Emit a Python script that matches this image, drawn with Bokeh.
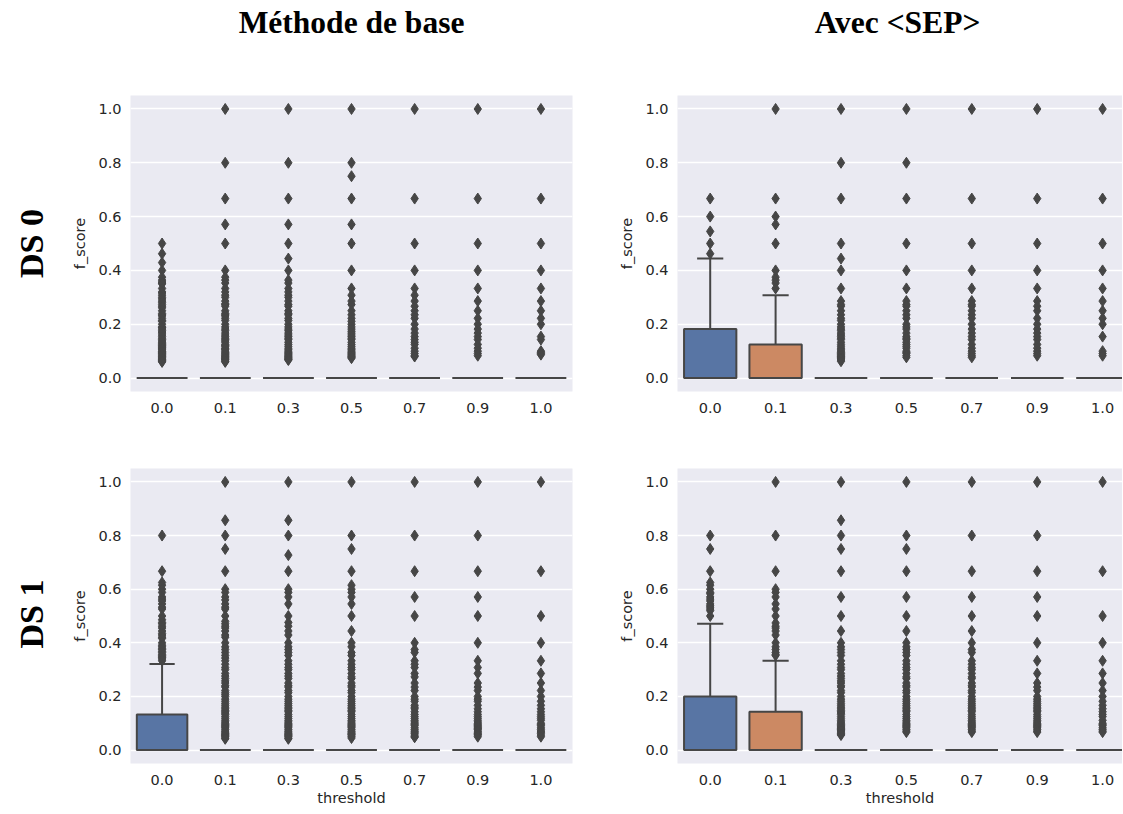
from bokeh.plotting import figure
from bokeh.models import Range1d, FixedTicker, ColumnDataSource
from bokeh.layouts import column, row
from bokeh.embed import file_html
from bokeh.resources import INLINE
from bokeh.core.properties import value

# ---------------- data ----------------
categories = ["0.0", "0.1", "0.3", "0.5", "0.7", "0.9", "1.0"]
col_titles = ["Méthode de base", "Avec <SEP>"]
row_titles = ["DS 0", "DS 1"]
x_label = "threshold"
y_label = "f_score"
y_ticks = [0.0, 0.2, 0.4, 0.6, 0.8, 1.0]

box_colors = ["#5875a4", "#cc8963", "#5f9e6e", "#b55d60", "#857aab", "#8d7866", "#d095bf"]

# DS 0 - Méthode de base
base_ds0_q1 = [0, 0, 0, 0, 0, 0, 0]
base_ds0_med = [0, 0, 0, 0, 0, 0, 0]
base_ds0_q3 = [0, 0, 0, 0, 0, 0, 0]
base_ds0_whi = [0, 0, 0, 0, 0, 0, 0]
base_ds0_out = [
    [0.5, 0.462, 0.429, 0.4, 0.375, 0.364, 0.357, 0.353, 0.35, 0.333, 0.32, 0.316, 0.308, 0.3, 0.294, 0.286,
     0.28, 0.273, 0.267, 0.261, 0.25, 0.24, 0.235, 0.231, 0.222, 0.214, 0.211, 0.2, 0.19, 0.188, 0.182, 0.176,
     0.171, 0.167, 0.16, 0.154, 0.148, 0.143, 0.138, 0.133, 0.129, 0.125, 0.121, 0.118, 0.114, 0.111, 0.108,
     0.105, 0.1, 0.098, 0.095, 0.093, 0.091, 0.087, 0.083, 0.08, 0.077, 0.074, 0.071, 0.069, 0.067, 0.065,
     0.0625, 0.06],
    [1.0, 0.8, 0.667, 0.571, 0.5, 0.4, 0.375, 0.364, 0.353, 0.333, 0.32, 0.308, 0.3, 0.286, 0.276, 0.273,
     0.267, 0.25, 0.24, 0.235, 0.231, 0.222, 0.214, 0.2, 0.19, 0.182, 0.176, 0.167, 0.16, 0.154, 0.148, 0.143,
     0.138, 0.133, 0.125, 0.121, 0.118, 0.111, 0.108, 0.105, 0.1, 0.095, 0.091, 0.087, 0.083, 0.08, 0.077,
     0.074, 0.071, 0.069, 0.067, 0.0625, 0.06],
    [1.0, 0.8, 0.667, 0.571, 0.5, 0.444, 0.4, 0.364, 0.353, 0.333, 0.32, 0.308, 0.3, 0.286, 0.273, 0.267,
     0.25, 0.24, 0.235, 0.222, 0.214, 0.2, 0.19, 0.182, 0.176, 0.167, 0.16, 0.154, 0.148, 0.143, 0.133, 0.125,
     0.118, 0.111, 0.105, 0.1, 0.095, 0.091, 0.087, 0.083, 0.08, 0.077, 0.074, 0.071, 0.069, 0.067],
    [1.0, 0.8, 0.75, 0.667, 0.571, 0.5, 0.4, 0.333, 0.308, 0.286, 0.273, 0.25, 0.235, 0.222, 0.211, 0.2,
     0.19, 0.182, 0.174, 0.167, 0.16, 0.154, 0.148, 0.143, 0.133, 0.125, 0.118, 0.111, 0.105, 0.1, 0.095,
     0.091, 0.087, 0.083, 0.08, 0.077, 0.074],
    [1.0, 0.667, 0.5, 0.4, 0.333, 0.308, 0.286, 0.267, 0.25, 0.235, 0.222, 0.2, 0.182, 0.167, 0.154, 0.143,
     0.133, 0.125, 0.111, 0.1, 0.091, 0.083, 0.08],
    [1.0, 0.667, 0.5, 0.4, 0.333, 0.286, 0.25, 0.222, 0.2, 0.182, 0.167, 0.154, 0.143, 0.125, 0.111, 0.1,
     0.091, 0.083],
    [1.0, 0.667, 0.5, 0.4, 0.333, 0.286, 0.25, 0.222, 0.2, 0.154, 0.143, 0.1, 0.095, 0.091, 0.087],
]

# DS 0 - Avec <SEP>
sep_ds0_q1 = [0, 0, 0, 0, 0, 0, 0]
sep_ds0_med = [0, 0, 0, 0, 0, 0, 0]
sep_ds0_q3 = [0.182, 0.125, 0, 0, 0, 0, 0]
sep_ds0_whi = [0.444, 0.308, 0, 0, 0, 0, 0]
sep_ds0_out = [
    [0.667, 0.6, 0.545, 0.5, 0.462],
    [1.0, 0.667, 0.6, 0.571, 0.5, 0.4, 0.375, 0.364, 0.353, 0.333],
    [1.0, 0.8, 0.667, 0.5, 0.444, 0.4, 0.333, 0.286, 0.273, 0.267, 0.25, 0.235, 0.222, 0.214, 0.2, 0.19,
     0.182, 0.176, 0.167, 0.16, 0.154, 0.148, 0.143, 0.133, 0.125, 0.118, 0.111, 0.105, 0.1, 0.095, 0.091,
     0.087, 0.083, 0.08, 0.077, 0.074, 0.071, 0.067, 0.0625],
    [1.0, 0.8, 0.667, 0.5, 0.4, 0.333, 0.286, 0.273, 0.267, 0.25, 0.235, 0.222, 0.2, 0.19, 0.182, 0.167,
     0.154, 0.148, 0.143, 0.133, 0.125, 0.118, 0.111, 0.1, 0.095, 0.091, 0.083, 0.077],
    [1.0, 0.667, 0.5, 0.4, 0.333, 0.286, 0.273, 0.267, 0.25, 0.235, 0.222, 0.2, 0.182, 0.167, 0.154, 0.143,
     0.125, 0.111, 0.1, 0.091, 0.083, 0.077],
    [1.0, 0.667, 0.5, 0.4, 0.333, 0.286, 0.267, 0.25, 0.222, 0.2, 0.182, 0.167, 0.154, 0.143, 0.125, 0.111,
     0.1, 0.091, 0.083],
    [1.0, 0.667, 0.5, 0.4, 0.333, 0.286, 0.25, 0.222, 0.2, 0.154, 0.1, 0.091, 0.083],
]

# DS 1 - Méthode de base
base_ds1_q1 = [0, 0, 0, 0, 0, 0, 0]
base_ds1_med = [0, 0, 0, 0, 0, 0, 0]
base_ds1_q3 = [0.133, 0, 0, 0, 0, 0, 0]
base_ds1_whi = [0.321, 0, 0, 0, 0, 0, 0]
base_ds1_out = [
    [0.8, 0.667, 0.625, 0.615, 0.6, 0.588, 0.571, 0.563, 0.556, 0.545, 0.533, 0.526, 0.5, 0.486, 0.476,
     0.471, 0.462, 0.455, 0.444, 0.435, 0.429, 0.421, 0.417, 0.4, 0.391, 0.385, 0.378, 0.375, 0.368, 0.364,
     0.357, 0.353, 0.348, 0.345, 0.34, 0.333],
    [1.0, 0.857, 0.8, 0.75, 0.667, 0.6, 0.588, 0.571, 0.56, 0.545, 0.533, 0.526, 0.5, 0.48, 0.471, 0.462,
     0.455, 0.444, 0.429, 0.421, 0.4, 0.385, 0.375, 0.364, 0.353, 0.343, 0.333, 0.32, 0.308, 0.3, 0.286,
     0.276, 0.267, 0.258, 0.25, 0.24, 0.235, 0.222, 0.214, 0.207, 0.2, 0.19, 0.182, 0.174, 0.167, 0.16,
     0.154, 0.148, 0.143, 0.138, 0.133, 0.125, 0.118, 0.111, 0.105, 0.1, 0.095, 0.091, 0.087, 0.083, 0.077,
     0.071, 0.067, 0.0625, 0.059, 0.056, 0.053, 0.05, 0.045, 0.042],
    [1.0, 0.857, 0.8, 0.727, 0.667, 0.6, 0.588, 0.571, 0.545, 0.5, 0.476, 0.462, 0.444, 0.429, 0.4, 0.385,
     0.375, 0.364, 0.353, 0.333, 0.32, 0.308, 0.3, 0.286, 0.276, 0.267, 0.25, 0.24, 0.235, 0.222, 0.214,
     0.2, 0.19, 0.182, 0.174, 0.167, 0.16, 0.154, 0.148, 0.143, 0.133, 0.125, 0.118, 0.111, 0.105, 0.1,
     0.095, 0.091, 0.087, 0.083, 0.077, 0.071, 0.067, 0.0625, 0.059, 0.056, 0.053, 0.05, 0.045, 0.042],
    [1.0, 0.8, 0.75, 0.667, 0.615, 0.6, 0.588, 0.571, 0.545, 0.5, 0.444, 0.4, 0.385, 0.364, 0.353, 0.333,
     0.32, 0.308, 0.3, 0.286, 0.273, 0.267, 0.25, 0.24, 0.235, 0.222, 0.214, 0.2, 0.19, 0.182, 0.174,
     0.167, 0.16, 0.154, 0.148, 0.143, 0.133, 0.125, 0.118, 0.111, 0.105, 0.1, 0.095, 0.091, 0.087, 0.083,
     0.077, 0.071, 0.067, 0.0625, 0.059, 0.056, 0.05, 0.045],
    [1.0, 0.8, 0.667, 0.571, 0.5, 0.4, 0.375, 0.364, 0.333, 0.32, 0.308, 0.286, 0.273, 0.25, 0.235, 0.222,
     0.2, 0.19, 0.182, 0.167, 0.16, 0.154, 0.143, 0.133, 0.125, 0.118, 0.111, 0.105, 0.1, 0.095, 0.091,
     0.083, 0.077, 0.071, 0.067, 0.0625, 0.056, 0.05, 0.048],
    [1.0, 0.8, 0.667, 0.571, 0.5, 0.4, 0.333, 0.308, 0.286, 0.25, 0.235, 0.222, 0.2, 0.19, 0.182, 0.167,
     0.154, 0.143, 0.133, 0.125, 0.118, 0.111, 0.105, 0.1, 0.095, 0.091, 0.087, 0.083, 0.08, 0.077, 0.071,
     0.067, 0.0625, 0.059, 0.056, 0.05],
    [1.0, 0.667, 0.5, 0.4, 0.333, 0.286, 0.25, 0.222, 0.2, 0.182, 0.167, 0.154, 0.143, 0.133, 0.125, 0.118,
     0.111, 0.1, 0.095, 0.091, 0.083, 0.077, 0.071, 0.067, 0.0625, 0.056, 0.05],
]

# DS 1 - Avec <SEP>
sep_ds1_q1 = [0, 0, 0, 0, 0, 0, 0]
sep_ds1_med = [0, 0, 0, 0, 0, 0, 0]
sep_ds1_q3 = [0.2, 0.143, 0, 0, 0, 0, 0]
sep_ds1_whi = [0.471, 0.333, 0, 0, 0, 0, 0]
sep_ds1_out = [
    [0.8, 0.75, 0.667, 0.625, 0.615, 0.6, 0.588, 0.583, 0.571, 0.563, 0.556, 0.545, 0.538, 0.533, 0.526,
     0.52, 0.5],
    [1.0, 0.8, 0.667, 0.6, 0.588, 0.571, 0.545, 0.526, 0.5, 0.474, 0.462, 0.455, 0.444, 0.429, 0.4, 0.385,
     0.375, 0.364, 0.357, 0.353],
    [1.0, 0.857, 0.8, 0.75, 0.667, 0.571, 0.5, 0.444, 0.4, 0.385, 0.375, 0.364, 0.353, 0.333, 0.32, 0.308,
     0.3, 0.286, 0.276, 0.267, 0.258, 0.25, 0.24, 0.235, 0.222, 0.214, 0.2, 0.19, 0.182, 0.174, 0.167, 0.16,
     0.154, 0.148, 0.143, 0.138, 0.133, 0.125, 0.118, 0.111, 0.105, 0.1, 0.095, 0.091, 0.087, 0.083, 0.08,
     0.077, 0.074, 0.071, 0.067, 0.0625, 0.059, 0.056],
    [1.0, 0.8, 0.75, 0.667, 0.571, 0.5, 0.444, 0.4, 0.385, 0.375, 0.364, 0.353, 0.333, 0.32, 0.308, 0.3,
     0.286, 0.273, 0.267, 0.25, 0.24, 0.235, 0.222, 0.214, 0.2, 0.19, 0.182, 0.174, 0.167, 0.16, 0.154,
     0.148, 0.143, 0.133, 0.125, 0.118, 0.111, 0.105, 0.1, 0.095, 0.091, 0.087, 0.083, 0.077, 0.071, 0.067],
    [1.0, 0.8, 0.667, 0.571, 0.5, 0.444, 0.4, 0.375, 0.364, 0.333, 0.32, 0.308, 0.3, 0.286, 0.273, 0.267,
     0.25, 0.24, 0.235, 0.222, 0.214, 0.2, 0.19, 0.182, 0.174, 0.167, 0.16, 0.154, 0.148, 0.143, 0.133,
     0.125, 0.118, 0.111, 0.105, 0.1, 0.095, 0.091, 0.087, 0.083, 0.077, 0.071, 0.067],
    [1.0, 0.8, 0.667, 0.571, 0.5, 0.4, 0.333, 0.286, 0.25, 0.235, 0.222, 0.2, 0.19, 0.182, 0.174, 0.167,
     0.16, 0.154, 0.148, 0.143, 0.133, 0.125, 0.118, 0.111, 0.105, 0.1, 0.095, 0.091, 0.087, 0.083, 0.077,
     0.071, 0.067],
    [1.0, 0.667, 0.5, 0.4, 0.333, 0.286, 0.25, 0.222, 0.2, 0.182, 0.167, 0.154, 0.143, 0.133, 0.125, 0.111,
     0.1, 0.095, 0.091, 0.083, 0.077, 0.071, 0.067],
]

# ---------------- styling / layout ----------------
BG = "#eaeaf2"
GRAY = "#464646"
TXT = "#262626"
FONT = "DejaVu Sans"
SERIF = "Liberation Serif"
TICK_FS = "14.5px"

TOTAL_W = 1122
HEADER_H = 95
LABEL_W = 60
LW, RW = 442, 445          # frame widths (left / right columns)
TH, BH = 296, 295          # frame heights (top / bottom rows)
L_BL, L_BR = 70, 28        # left column borders
R_BL = 77                  # right column left border
T_BB = 39                  # top row bottom border
B_BT, B_BB = 38, 40        # bottom row borders
right_x_end = -0.5 + RW / 65.4


def make_panel(q1, med, q3, whi, outl, *, bl, br, bt, bb, fw, fh, x_end, show_xlab):
    p = figure(frame_width=fw, frame_height=fh,
               x_range=Range1d(-0.5, x_end), y_range=Range1d(-0.05, 1.05),
               output_backend="svg", toolbar_location=None,
               min_border_left=bl, min_border_right=br, min_border_top=bt, min_border_bottom=bb,
               background_fill_color=BG, border_fill_color="white", outline_line_color=None)
    n = len(categories)
    xs = list(range(n))
    p.xgrid.visible = False
    p.ygrid.grid_line_color = "white"
    p.ygrid.grid_line_width = 1.3
    p.ygrid.ticker = FixedTicker(ticks=y_ticks)
    p.xaxis.ticker = FixedTicker(ticks=xs)
    p.xaxis.major_label_overrides = {i: c for i, c in enumerate(categories)}
    p.yaxis.ticker = FixedTicker(ticks=y_ticks)
    p.yaxis.major_label_overrides = {t: f"{t:.1f}" for t in y_ticks}
    for ax in (p.xaxis[0], p.yaxis[0]):
        ax.axis_line_color = None
        ax.major_tick_line_color = None
        ax.minor_tick_line_color = None
        ax.major_tick_out = 0
        ax.major_tick_in = 0
        ax.minor_tick_out = 0
        ax.minor_tick_in = 0
        ax.major_label_text_font = FONT
        ax.major_label_text_font_size = TICK_FS
        ax.major_label_text_color = TXT
        ax.axis_label_text_font = FONT
        ax.axis_label_text_font_size = TICK_FS
        ax.axis_label_text_font_style = "normal"
        ax.axis_label_text_color = TXT
    p.xaxis.major_label_standoff = 11
    p.yaxis.major_label_standoff = 9
    p.yaxis.axis_label = y_label
    p.yaxis.axis_label_standoff = 7
    if show_xlab:
        p.xaxis.axis_label = x_label
        p.xaxis.axis_label_standoff = 2

    lefts = [x - 0.4 for x in xs]
    rights = [x + 0.4 for x in xs]
    p.segment(x0=xs, y0=q3, x1=xs, y1=whi, line_color=GRAY, line_width=2)
    p.segment(x0=[x - 0.2 for x in xs], y0=whi, x1=[x + 0.2 for x in xs], y1=whi, line_color=GRAY, line_width=2)
    p.quad(left=lefts, right=rights, bottom=q1, top=q3, fill_color=box_colors, line_color=GRAY, line_width=2)
    p.segment(x0=lefts, y0=med, x1=rights, y1=med, line_color=GRAY, line_width=2)
    ox, oy = [], []
    for i, vals in enumerate(outl):
        ox += [i] * len(vals)
        oy += vals
    src = ColumnDataSource(dict(x=ox, y=oy))
    p.scatter(x="x", y="y", source=src, marker="diamond", size=11, fill_color=GRAY, line_color=GRAY, line_width=1)
    return p


def blank(w, h):
    p = figure(width=w, height=h, x_range=Range1d(0, w), y_range=Range1d(0, h),
               x_axis_type=None, y_axis_type=None, output_backend="svg", toolbar_location=None,
               min_border=0, min_border_left=0, min_border_right=0, min_border_top=0, min_border_bottom=0,
               outline_line_color=None, background_fill_color="white", border_fill_color="white")
    p.grid.visible = False
    return p


tl = make_panel(base_ds0_q1, base_ds0_med, base_ds0_q3, base_ds0_whi, base_ds0_out,
                bl=L_BL, br=L_BR, bt=0, bb=T_BB, fw=LW, fh=TH, x_end=6.5, show_xlab=False)
tr = make_panel(sep_ds0_q1, sep_ds0_med, sep_ds0_q3, sep_ds0_whi, sep_ds0_out,
                bl=R_BL, br=0, bt=0, bb=T_BB, fw=RW, fh=TH, x_end=right_x_end, show_xlab=False)
bl_ = make_panel(base_ds1_q1, base_ds1_med, base_ds1_q3, base_ds1_whi, base_ds1_out,
                 bl=L_BL, br=L_BR, bt=B_BT, bb=B_BB, fw=LW, fh=BH, x_end=6.5, show_xlab=True)
br_ = make_panel(sep_ds1_q1, sep_ds1_med, sep_ds1_q3, sep_ds1_whi, sep_ds1_out,
                 bl=R_BL, br=0, bt=B_BT, bb=B_BB, fw=RW, fh=BH, x_end=right_x_end, show_xlab=True)

# header with the column titles
header = blank(TOTAL_W, HEADER_H)
left_frame_x0 = LABEL_W + L_BL
right_frame_x0 = left_frame_x0 + LW + L_BR + R_BL
header.text(x=[left_frame_x0 + LW / 2, right_frame_x0 + 220], y=[HEADER_H - 22, HEADER_H - 22], text=col_titles,
            text_font=value(SERIF), text_font_style="bold", text_font_size=value("31.5px"), text_color="black",
            text_align="center", text_baseline="middle")

# side strip with the row titles
body_h = TH + T_BB + B_BT + BH + B_BB
side = blank(LABEL_W, body_h)
side.text(x=[31, 31], y=[body_h - TH / 2, B_BB + BH / 2 + 2], text=row_titles, angle=[1.5708, 1.5708],
          text_font=value(SERIF), text_font_style="bold", text_font_size=value("34px"), text_color="black",
          text_align="center", text_baseline="middle")

grid = column(row(tl, tr, spacing=0), row(bl_, br_, spacing=0), spacing=0)
layout = column(header, row(side, grid, spacing=0), spacing=0)

open("out.html", "w").write(file_html(layout, INLINE))
